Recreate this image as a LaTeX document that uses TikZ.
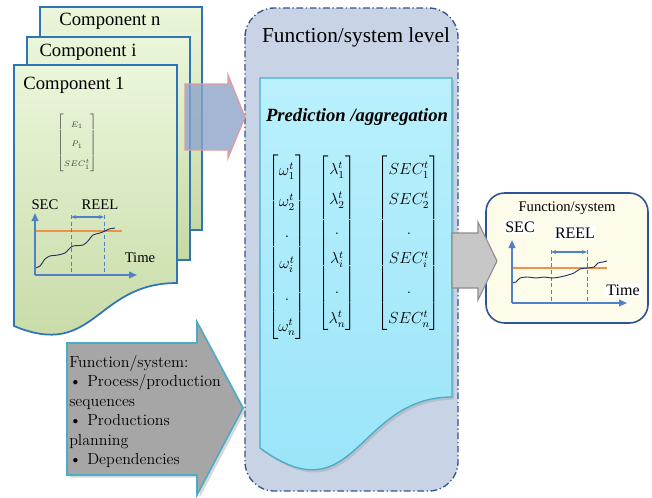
\documentclass[tikz,border=0pt]{standalone}
\usepackage{amsmath,amssymb}
\usepackage{fontspec}
\newfontfamily\tnr{Liberation Serif}
\usepackage{tikz}
\usetikzlibrary{arrows.meta,shadows}
\definecolor{cCompTop}{HTML}{EBF6DA}
\definecolor{cCompBot}{HTML}{C5D9A4}
\definecolor{cCompLine}{HTML}{2E75B6}
\definecolor{cSysFill}{HTML}{C9D3E6}
\definecolor{cSysLine}{HTML}{34548A}
\definecolor{cPredTop}{HTML}{BAF0FC}
\definecolor{cPredBot}{HTML}{97E3F9}
\definecolor{cPredLine}{HTML}{4BACC6}
\definecolor{cAxis}{HTML}{4F81C7}
\definecolor{cCurve}{HTML}{1F3864}
\definecolor{cLimit}{HTML}{F0904A}
\definecolor{cInfo}{HTML}{A6A6A6}
\definecolor{cOutArr}{HTML}{C7C7C7}
\definecolor{cPink}{HTML}{DE9E9E}
\definecolor{cFlow}{HTML}{8EA4CB}
\definecolor{cOut}{HTML}{FDFCEB}
\definecolor{cOutLine}{HTML}{2F5496}
\tikzset{
  comp/.style={draw=cCompLine, line width=1.3pt, top color=cCompTop, bottom color=cCompBot},
  comptxt/.style={font=\tnr\fontsize{14}{16}\selectfont, inner sep=1pt},
  sysbox/.style={draw=cSysLine, fill=cSysFill, line width=1pt, rounded corners=22pt,
                 dash pattern=on 5pt off 2pt on 1pt off 2pt},
  pred/.style={draw=cPredLine, line width=1pt, top color=cPredTop, bottom color=cPredBot,
               drop shadow={opacity=0.25, shadow xshift=1.5pt, shadow yshift=-2pt}},
  vecs/.style={font=\fontsize{11.5}{13.8}\selectfont, inner sep=0pt},
  glbl/.style={font=\tnr\fontsize{11}{13}\selectfont, inner sep=1pt},
  axisarr/.style={-{Triangle[length=6pt,width=5pt]}, draw=cAxis, line width=1.3pt},
  guide/.style={draw=cAxis, densely dashed, line width=0.5pt},
  span/.style={{Stealth[length=4pt]}-{Stealth[length=4pt]}, draw=cAxis, line width=1pt},
  limit/.style={draw=cLimit, line width=1pt},
  curve/.style={draw=cCurve, line width=0.7pt},
  flowin/.style={draw=cPink, line width=1pt, fill=cFlow, fill opacity=0.8},
  flowout/.style={draw=black!45, line width=0.8pt, fill=cOutArr},
  flowinfo/.style={draw=cPredLine, line width=1.2pt, fill=cInfo,
                   drop shadow={opacity=0.3, shadow xshift=2pt, shadow yshift=-2pt}},
  outbox/.style={draw=cOutLine, line width=1.2pt, fill=cOut, rounded corners=14pt},
}

\begin{document}
\begin{tikzpicture}[x=0.75pt,y=-0.75pt]
    \useasboundingbox (0,0) rectangle (652,497);

    \draw[comp] (40,7) rectangle (202,230);
    \node[comptxt] (compn) at (110,21) {Component n};
    \draw[comp] (27,37) rectangle (190,260);
    \node[comptxt] (compi) at (88,52) {Component i};
    \draw[comp] (14,65) -- (177,65) -- (177,283) .. controls (95,283) and (95,360) .. (14,326) -- cycle;
    \node[comptxt] (comp1) at (74,85) {Component 1};
    \node[font=\fontsize{6.5}{7.5}\selectfont, text=black!75, inner sep=0pt] (vec1) at (77,143)
      {\def\arraystretch{1.95}$\begin{bmatrix}E_1\\ P_1\\ SEC_1^t\end{bmatrix}$};

    \node[glbl] (sec1) at (45,205) {SEC};
    \node[glbl] (reel1) at (100,205) {REEL};
    \node[glbl] (time1) at (140,258) {Time};
    \draw[limit] (35,231) -- (122,231);
    \draw[guide] (71,215) -- (71,275);
    \draw[guide] (104,215) -- (104,275);
    \draw[span] (71,217) -- (104,217);
    \draw[curve] plot[smooth] coordinates {(35,268) (40,266) (45,259) (50,256) (58,255) (65,253)
      (69,249) (73,246) (83,245) (88,241) (93,235) (100,233) (105,231) (109,229) (115,228)};
    \draw[axisarr] (35,275) -- (35,213);
    \draw[axisarr] (35,275) -- (137,275);

    \draw[sysbox] (245,8) rectangle (458,491);
    \node[font=\tnr\fontsize{16}{18}\selectfont] (systitle) at (356,37) {Function/system level};
    \draw[pred] (260,78) -- (452,78) -- (452,397) .. controls (356,397) and (356,518) .. (260,448) -- cycle;
    \node[font=\tnr\bfseries\itshape\fontsize{14}{16}\selectfont] (predtitle) at (357,117)
      {Prediction /aggregation};
    \node[vecs] (omega) at (287,247)
      {\def\arraystretch{1.7}$\begin{bmatrix}\omega_1^t\\ \omega_2^t\\ .\\ \omega_i^t\\ .\\ \omega_n^t\end{bmatrix}$};
    \node[vecs] (lambda) at (337,243)
      {\def\arraystretch{1.62}$\begin{bmatrix}\lambda_1^t\\ \lambda_2^t\\ .\\ \lambda_i^t\\ .\\ \lambda_n^t\end{bmatrix}$};
    \node[vecs] (secs) at (409,243)
      {\def\arraystretch{1.62}$\begin{bmatrix}SEC_1^t\\ SEC_2^t\\ .\\ SEC_i^t\\ .\\ SEC_n^t\end{bmatrix}$};

    \draw[flowin] (185,84) -- (228,84) -- (228,75) -- (245,117) -- (228,158) -- (228,150) -- (185,150) -- cycle;

    \draw[outbox] (486,193) rectangle (648,323);
    \draw[flowout] (452,233) -- (478,233) -- (478,222) -- (497,261) -- (478,300) -- (478,288) -- (452,288) -- cycle;
    \node[glbl] (outtitle) at (567,208) {Function/system};
    \node[glbl, fill=white, font=\tnr\fontsize{12}{14}\selectfont] (sec2) at (520,227) {SEC};
    \node[glbl, fill=white, font=\tnr\fontsize{12}{14}\selectfont] (reel2) at (575,233) {REEL};
    \draw[limit] (512,268) -- (607,268);
    \draw[guide] (551,250) -- (551,303);
    \draw[guide] (587,250) -- (587,303);
    \draw[span] (551,252) -- (587,252);
    \draw[curve] plot[smooth] coordinates {(512,283) (516,282) (520,278) (528,277) (536,278) (544,277)
      (552,278) (560,277) (568,275) (574,273) (580,269) (587,268) (594,267) (598,263) (603,262) (607,261)};
    \draw[axisarr] (512,303) -- (512,240);
    \draw[axisarr] (512,303) -- (627,303);
    \node[glbl, fill=white, font=\tnr\fontsize{12}{14}\selectfont] (time2) at (623,290) {Time};

    \draw[flowinfo] (67,343) -- (197,343) -- (197,322) -- (243,408) -- (197,495) -- (197,475) -- (67,475) -- cycle;
    \node[anchor=north west, align=left, inner sep=0pt, font=\fontsize{12}{14.6}\selectfont] (info) at (69,355)
      {Function/system:\\
       \makebox[13.5pt][l]{\textbullet}Process/production\\
       sequences\\
       \makebox[13.5pt][l]{\textbullet}Productions\\
       planning\\
       \makebox[13.5pt][l]{\textbullet}Dependencies};
  \end{tikzpicture}
\end{document}
